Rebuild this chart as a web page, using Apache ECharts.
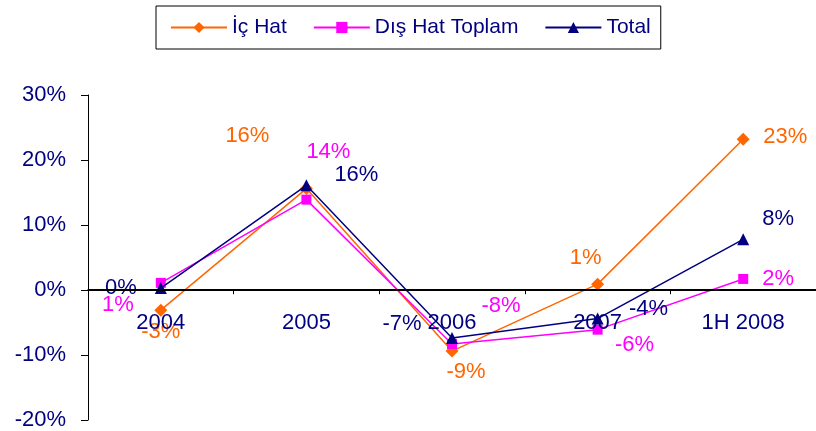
<!DOCTYPE html>
<html lang="tr">
<head>
  <meta charset="UTF-8">
  <title>İç Hat / Dış Hat</title>
  <script src="https://cdn.jsdelivr.net/npm/echarts@6/dist/echarts.min.js"></script>
  <style>
    html, body { margin: 0; padding: 0; background: #fff; }
    #chart { width: 816px; height: 431px; }
  </style>
</head>
<body>
  <div id="chart"></div>
  <script>
    var categories = ['2004', '2005', '2006', '2007', '1H 2008'];
    var icHat = [-3.1, 15.6, -9.4, 0.9, 23.2];
    var disHat = [1.1, 13.9, -8.3, -6.1, 1.7];
    var total = [0.3, 16.1, -7.4, -4.4, 7.8];
    var yTicks = [-20, -10, 0, 10, 20, 30];

    // where each value label sits relative to its point (px)
    var icHatLabelOffsets = [[0, 22], [-59, -53], [14, 21], [-12, -26], [42, -2]];
    var disHatLabelOffsets = [[-43, 22], [22, -48], [49, -38], [37, 15], [35, 0]];
    var totalLabelOffsets = [[-40, 0], [50, -10], [-50, -14], [51, -10], [35, -20]];

    var font = 'Liberation Sans, Arial, sans-serif';
    var gridTop = 95, gridBottom = 9, chartH = 431;
    // lift the category axis up to the 0% line
    var plotH = chartH - gridTop - gridBottom;
    var zeroLift = plotH * (0 - yTicks[0]) / (yTicks[yTicks.length - 1] - yTicks[0]);

    function withLabels(values, offsets, color) {
      return values.map(function (v, i) {
        return {
          value: v,
          label: {
            show: true,
            position: 'inside',
            offset: offsets[i],
            color: color,
            fontSize: 22,
            fontFamily: font,
            formatter: function (p) { return Math.round(p.value) + '%'; }
          }
        };
      });
    }

    var chart = echarts.init(document.getElementById('chart'));
    chart.setOption({
      animation: false,
      legend: {
        left: 156,
        top: 6,
        padding: [11, 10, 11, 14],
        itemGap: 26,
        itemWidth: 56,
        itemHeight: 14,
        borderColor: '#000',
        borderWidth: 1,
        textStyle: { fontSize: 21, color: '#000080', fontFamily: font },
        data: ['İç Hat', 'Dış Hat Toplam', 'Total']
      },
      grid: { left: 88, right: -3, top: gridTop, bottom: gridBottom, containLabel: false },
      xAxis: {
        type: 'category',
        data: categories,
        boundaryGap: true,
        offset: -zeroLift,
        axisLine: { show: true, onZero: false, lineStyle: { color: '#000', width: 1 } },
        axisTick: { show: true, length: 5, lineStyle: { color: '#000' } },
        axisLabel: { show: true, fontSize: 22, color: '#000080', fontFamily: font, margin: 23 },
        z: 5
      },
      yAxis: {
        type: 'value',
        min: yTicks[0],
        max: yTicks[yTicks.length - 1],
        interval: 10,
        splitLine: { show: false },
        axisLine: { show: true, lineStyle: { color: '#000', width: 1 } },
        axisTick: { show: true, inside: false, length: 7, lineStyle: { color: '#000' } },
        axisLabel: {
          fontSize: 22, color: '#000080', fontFamily: font, margin: 22,
          formatter: function (v) { return v + '%'; }
        }
      },
      series: [
        {
          name: 'İç Hat',
          type: 'line',
          data: withLabels(icHat, icHatLabelOffsets, '#FF6600'),
          symbol: 'diamond',
          symbolSize: 13,
          lineStyle: { color: '#FF6600', width: 1.5 },
          itemStyle: { color: '#FF6600' },
          // the 0% baseline
          markLine: {
            silent: true,
            symbol: 'none',
            label: { show: false },
            lineStyle: { color: '#000', width: 1, type: 'solid' },
            data: [{ yAxis: 0 }]
          },
          z: 2
        },
        {
          name: 'Dış Hat Toplam',
          type: 'line',
          data: withLabels(disHat, disHatLabelOffsets, '#FF00FF'),
          symbol: 'rect',
          symbolSize: 10,
          lineStyle: { color: '#FF00FF', width: 1.5 },
          itemStyle: { color: '#FF00FF' },
          z: 3
        },
        {
          name: 'Total',
          type: 'line',
          data: withLabels(total, totalLabelOffsets, '#000080'),
          symbol: 'triangle',
          symbolSize: 12,
          lineStyle: { color: '#000080', width: 1.5 },
          itemStyle: { color: '#000080' },
          z: 4
        }
      ]
    });
  </script>
</body>
</html>
